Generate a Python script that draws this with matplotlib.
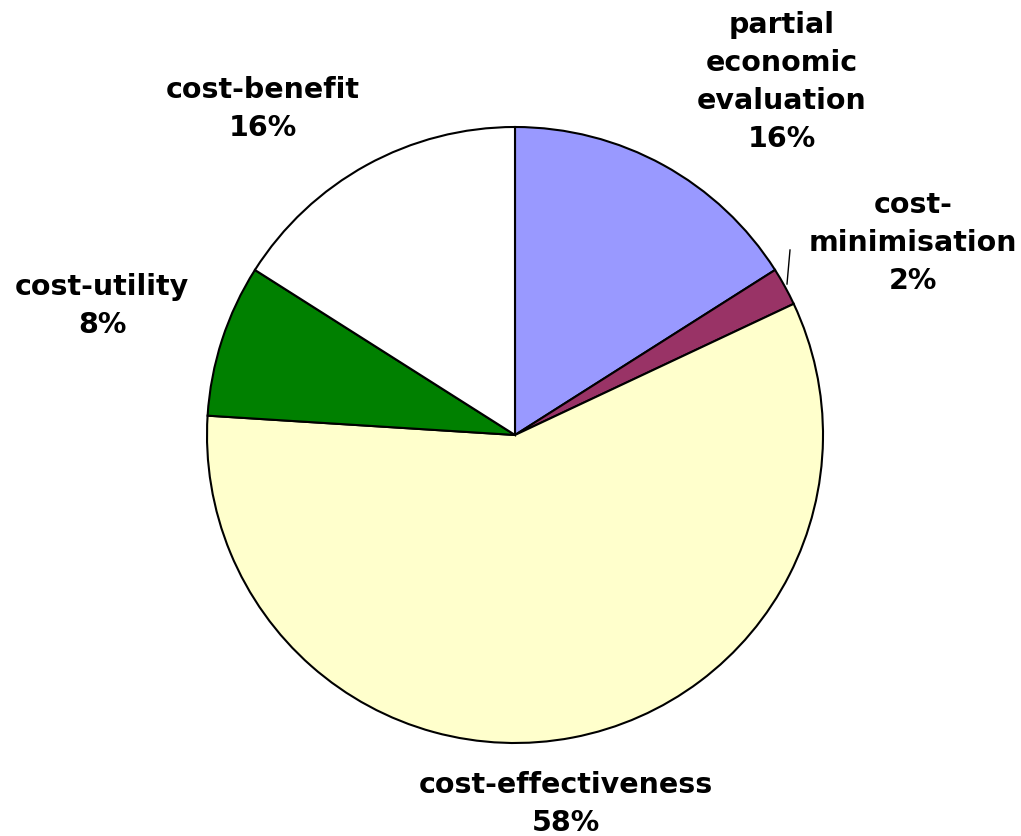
import matplotlib.pyplot as plt

labels = ["partial\neconomic\nevaluation", "cost-\nminimisation", "cost-effectiveness",
          "cost-utility", "cost-benefit"]
values = [16, 2, 58, 8, 16]
colors = ["#9999FF", "#993366", "#FFFFCC", "#008000", "#FFFFFF"]

# label centres in pixel coordinates (y from top)
label_pos = [(782, 82), (913, 243), (566, 804), (102, 306), (263, 109)]

fig = plt.figure(figsize=(10.21, 8.37), dpi=100)
ax = fig.add_axes([0, 0, 1, 1])
H = 837

ax.pie(values, colors=colors, startangle=90, counterclock=False,
       center=(515, H - 436), radius=308,
       wedgeprops=dict(edgecolor="black", linewidth=1.5))

total = sum(values)
for lab, v, (x, y) in zip(labels, values, label_pos):
    ax.text(x, H - y, f"{lab}\n{round(100 * v / total)}%", ha="center", va="center",
            multialignment="center", fontsize=20.5, fontweight="bold",
            family="DejaVu Sans", linespacing=1.45)

# leader line for the small slice
ax.plot([787, 790], [H - 285, H - 251], color="black", linewidth=1)

ax.set_xlim(0, 1021)
ax.set_ylim(0, H)
ax.set_aspect("equal")
ax.axis("off")
fig.savefig("out.png", dpi=100, facecolor="white")
